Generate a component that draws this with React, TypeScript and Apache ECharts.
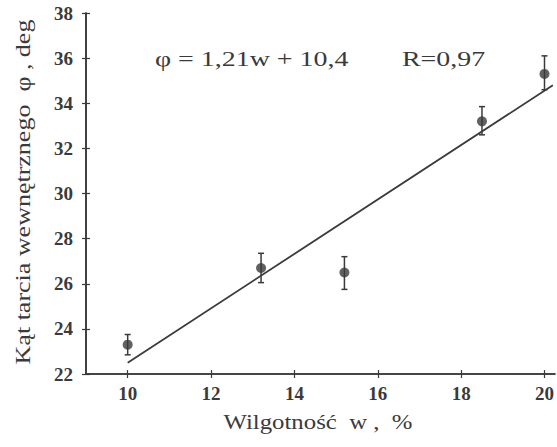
import { useEffect, useRef } from 'react';
import * as echarts from 'echarts';

const moisture = [10, 13.2, 15.2, 18.5, 20];
const frictionAngle = [23.3, 26.7, 26.5, 33.2, 35.3];
const errLow = [22.85, 26.05, 25.75, 32.6, 34.6];
const errHigh = [23.75, 27.35, 27.2, 33.85, 36.1];
const fitStart = [10, 22.5];
const fitEnd = [20.2, 34.8];
const xTickValues = [10, 12, 14, 16, 18, 20];

const INK = '#3a3a3a';
const FONT = 'Liberation Serif';
const STRETCH = 1.3;

export default function App() {
  const ref = useRef<HTMLDivElement>(null);
  useEffect(() => {
    if (!ref.current) return;
    const chart = echarts.init(ref.current, null, { renderer: 'svg' });
    const tickLabel = { color: INK, fontFamily: FONT, fontWeight: 'bold', fontSize: 19 };
    const xBase = {
      type: 'value', min: 9, max: 20.25, splitLine: { show: false },
      axisLine: { show: true, lineStyle: { color: INK, width: 1.6 } },
    };
    const yBase = {
      type: 'value', min: 22, max: 38, interval: 2, splitLine: { show: false },
      axisLine: { show: true, lineStyle: { color: INK, width: 1.6 } },
    };
    chart.setOption({
      animation: false,
      textStyle: { fontFamily: FONT },
      grid: { left: 86, right: 0, top: 13, bottom: 73, containLabel: false },
      xAxis: [
        {
          ...xBase, position: 'bottom',
          axisTick: { show: true, inside: false, length: 4, customValues: xTickValues, lineStyle: { color: INK, width: 1.2 } },
          axisLabel: { ...tickLabel, margin: 10, customValues: xTickValues, showMaxLabel: true },
        },
        {
          ...xBase, position: 'bottom', offset: 0,
          axisTick: { show: true, inside: true, length: 4, customValues: xTickValues, lineStyle: { color: INK, width: 1.2 } },
          axisLabel: { show: false },
        },
      ],
      yAxis: [
        {
          ...yBase, position: 'left',
          axisTick: { show: true, inside: false, length: 4, lineStyle: { color: INK, width: 1.2 } },
          axisLabel: { ...tickLabel, margin: 13 },
        },
        {
          ...yBase, position: 'left', offset: 0,
          axisTick: { show: true, inside: true, length: 4, lineStyle: { color: INK, width: 1.2 } },
          axisLabel: { show: false },
        },
      ],
      graphic: [
        {
          type: 'text', x: 318, y: 422, scaleX: 1.24,
          style: { text: 'Wilgotność  w ,  %', fill: INK, fontFamily: FONT, fontSize: 20, align: 'center', verticalAlign: 'middle' },
        },
        {
          type: 'text', x: 23, y: 192, rotation: Math.PI / 2, scaleX: STRETCH,
          style: { text: 'Kąt tarcia wewnętrznego  φ , deg', fill: INK, fontFamily: FONT, fontSize: 20, align: 'center', verticalAlign: 'middle' },
        },
        {
          type: 'text', x: 155, y: 59, scaleX: 1.27,
          style: { text: 'φ = 1,21w + 10,4', fill: INK, fontFamily: FONT, fontSize: 22, align: 'left', verticalAlign: 'middle' },
        },
        {
          type: 'text', x: 402, y: 59, scaleX: 1.27,
          style: { text: 'R=0,97', fill: INK, fontFamily: FONT, fontSize: 22, align: 'left', verticalAlign: 'middle' },
        },
      ],
      series: [
        {
          type: 'line', xAxisIndex: 0, yAxisIndex: 0,
          data: [fitStart, fitEnd], showSymbol: false, symbol: 'none',
          lineStyle: { color: INK, width: 1.8 }, z: 2,
        },
        {
          type: 'custom', xAxisIndex: 0, yAxisIndex: 0,
          data: moisture.map((x, i) => [x, errLow[i], errHigh[i]]),
          renderItem: (params: any, api: any) => {
            const lo = api.coord([api.value(0), api.value(1)]);
            const hi = api.coord([api.value(0), api.value(2)]);
            const w = 3;
            const style = { stroke: INK, lineWidth: 1.5 };
            return {
              type: 'group',
              children: [
                { type: 'line', shape: { x1: lo[0], y1: lo[1], x2: hi[0], y2: hi[1] }, style },
                { type: 'line', shape: { x1: lo[0] - w, y1: lo[1], x2: lo[0] + w, y2: lo[1] }, style },
                { type: 'line', shape: { x1: hi[0] - w, y1: hi[1], x2: hi[0] + w, y2: hi[1] }, style },
              ],
            };
          },
          z: 3,
        },
        {
          type: 'scatter', xAxisIndex: 0, yAxisIndex: 0,
          data: moisture.map((x, i) => [x, frictionAngle[i]]),
          symbol: 'circle', symbolSize: 10,
          itemStyle: { color: INK }, z: 4,
        },
      ],
    });
    return () => chart.dispose();
  }, []);
  return <div ref={ref} style={{ width: 557, height: 447, position: 'absolute', left: 0, top: 0 }} />;
}
